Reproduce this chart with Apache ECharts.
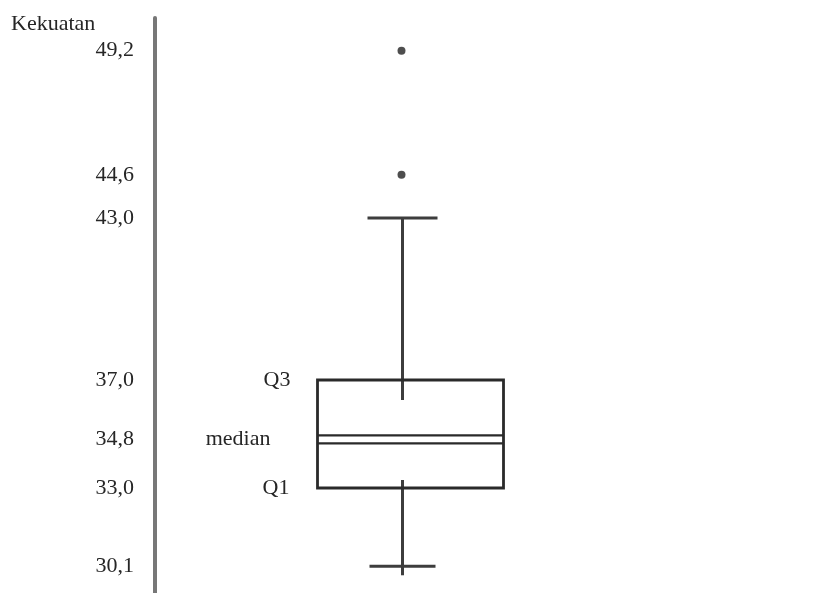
<!DOCTYPE html>
<html>
<head>
<meta charset="utf-8">
<script src="https://cdn.jsdelivr.net/npm/echarts@6/dist/echarts.min.js"></script>
<style>html,body{margin:0;padding:0;background:#fff;}#c{width:824px;height:593px;}</style>
</head>
<body>
<div id="c"></div>
<script>
// ---- data ----
const categories = ['Kekuatan'];
// [low whisker, Q1, median, Q3, high whisker]
const boxValues = [[30.1, 33.0, 34.8, 37.0, 43.0]];
const outlierValues = [44.6, 49.2];
const tickValues = [30.1, 33.0, 34.8, 37.0, 43.0, 44.6, 49.2];
const annotationNames = ['Q1', 'median', 'Q3'];
const axisTitle = 'Kekuatan';

const FONT = '"Liberation Serif", "DejaVu Serif", serif';
const FS = 22;
const chart = echarts.init(document.getElementById('c'), null, {renderer: 'canvas'});

const boxData = boxValues.map((b, i) => [i].concat(b));

chart.setOption({
  backgroundColor: '#fff',
  animation: false,
  title: {
    text: axisTitle, left: 6, top: 8,
    textStyle: {fontFamily: FONT, fontSize: FS, fontWeight: 'normal', color: '#262626'}
  },
  grid: {left: 155, right: 158, top: 18, bottom: 0, containLabel: false},
  xAxis: {
    type: 'category', data: categories,
    axisLine: {show: false}, axisTick: {show: false}, axisLabel: {show: false}, splitLine: {show: false}
  },
  yAxis: {
    type: 'value', min: 29.11, max: 50.41,
    axisLine: {show: true, lineStyle: {color: '#777777', width: 4}},
    axisTick: {show: false},
    splitLine: {show: false},
    axisLabel: {
      customValues: tickValues,
      margin: 21,
      fontFamily: FONT, fontSize: FS, color: '#262626',
      formatter: v => Number(v).toFixed(1).replace('.', ',')
    }
  },
  series: [
    {
      type: 'custom',
      data: boxData,
      encode: {x: 0, y: [1, 2, 3, 4, 5]},
      renderItem: function (params, api) {
        const ci = api.value(0);
        const low = api.coord([ci, api.value(1)]);
        const q1 = api.coord([ci, api.value(2)]);
        const med = api.coord([ci, api.value(3)]);
        const q3 = api.coord([ci, api.value(4)]);
        const high = api.coord([ci, api.value(5)]);
        const cx = q1[0];
        const bl = cx - 93, br = cx + 93;
        const wx = cx - 8;
        const boxStyle = {stroke: '#2a2a2a', lineWidth: 2.8, fill: null};
        const whiskStyle = {stroke: '#3d3d3d', lineWidth: 3};
        const tFont = FS + 'px ' + FONT;
        const children = [
          // whiskers
          {type: 'line', shape: {x1: wx, y1: high[1], x2: wx, y2: q3[1] + 20}, style: whiskStyle},
          {type: 'line', shape: {x1: wx, y1: q1[1] - 8, x2: wx, y2: low[1] + 9}, style: whiskStyle},
          {type: 'line', shape: {x1: wx - 35, y1: high[1], x2: wx + 35, y2: high[1]}, style: whiskStyle},
          {type: 'line', shape: {x1: wx - 33, y1: low[1], x2: wx + 33, y2: low[1]}, style: whiskStyle},
          // box
          {type: 'rect', shape: {x: bl, y: q3[1], width: br - bl, height: q1[1] - q3[1]}, style: boxStyle},
          // double median line
          {type: 'line', shape: {x1: bl, y1: med[1] - 4, x2: br, y2: med[1] - 4}, style: {stroke: '#2a2a2a', lineWidth: 2.4}},
          {type: 'line', shape: {x1: bl, y1: med[1] + 4, x2: br, y2: med[1] + 4}, style: {stroke: '#2a2a2a', lineWidth: 2.4}},
          // annotations
          {type: 'text', x: cx - 120, y: q3[1], style: {text: annotationNames[2], align: 'right', verticalAlign: 'middle', font: tFont, fill: '#262626'}},
          {type: 'text', x: cx - 140, y: med[1], style: {text: annotationNames[1], align: 'right', verticalAlign: 'middle', font: tFont, fill: '#262626'}},
          {type: 'text', x: cx - 121, y: q1[1], style: {text: annotationNames[0], align: 'right', verticalAlign: 'middle', font: tFont, fill: '#262626'}}
        ];
        return {type: 'group', children: children};
      },
      z: 2
    },
    {
      type: 'scatter',
      data: outlierValues.map(v => [0, v]),
      symbol: 'circle', symbolSize: 8,
      symbolOffset: [-9, 0],
      itemStyle: {color: '#222'},
      z: 3
    }
  ]
});
</script>
</body>
</html>
